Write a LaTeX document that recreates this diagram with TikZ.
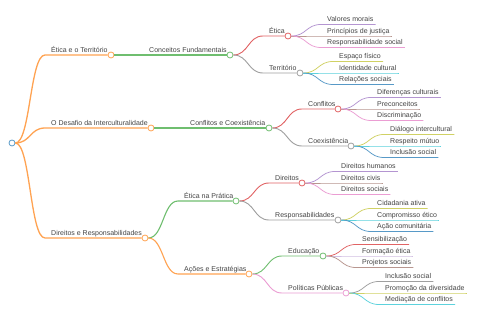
\documentclass[tikz,border=0pt]{standalone}
\usepackage{fontspec}
\setmainfont{Liberation Sans}
\definecolor{rBlue}{HTML}{1F77B4}
\definecolor{rOrange}{HTML}{FF7F0E}
\definecolor{rGreen}{HTML}{2CA02C}
\definecolor{rRed}{HTML}{D62728}
\definecolor{rPurple}{HTML}{9467BD}
\definecolor{rBrown}{HTML}{8C564B}
\definecolor{rPink}{HTML}{E377C2}
\definecolor{rGray}{HTML}{7F7F7F}
\definecolor{rOlive}{HTML}{BCBD22}
\definecolor{rCyan}{HTML}{17BECF}
\colorlet{cBlue}{rBlue!75}
\colorlet{cOrange}{rOrange!72}
\colorlet{cGreen}{rGreen!68}
\colorlet{cRed}{rRed!72}
\colorlet{cPurple}{rPurple!70}
\colorlet{cBrown}{rBrown!62}
\colorlet{cPink}{rPink!72}
\colorlet{cGray}{rGray!75}
\colorlet{cOlive}{rOlive!70}
\colorlet{cCyan}{rCyan!70}
\definecolor{txt}{HTML}{444444}
\newcommand{\mmlink}[4]{\draw[#1] (#2.east) .. controls +(15,0) and +(-15,0) .. (#3) -- (#4);}
\newcommand{\mmleaf}[4]{\draw[#1] (#2.east) .. controls +(15,0) and +(-15,0) .. (#3) -- (#3 -| #4.east) -- ++(2,0);}
\tikzset{
  dot/.style={circle, draw, fill=white, minimum size=6pt, inner sep=0pt, line width=0.8pt},
  lbl/.style={anchor=base west, inner sep=0pt, font=\fontsize{7}{8}\selectfont, text=txt},
  wa/.style={line width=1.3pt},
  wb/.style={line width=1.1pt},
  wc/.style={line width=0.9pt},
  wd/.style={line width=0.75pt}
}
\begin{document}
\begin{tikzpicture}[x=1pt,y=-1pt]
\useasboundingbox[fill=white] (0,0) rectangle (480,320);

% root
\node[dot,draw=cBlue] (R) at (12,143) {};

% level 1
\node[lbl] (tA) at (51,52.5) {Ética e o Território};
\node[lbl] (tB) at (51,125.5) {O Desafio da Interculturalidade};
\node[lbl] (tC) at (51,235.5) {Direitos e Responsabilidades};
\coordinate (sA) at (45,55);
\coordinate (sB) at (45,128);
\coordinate (sC) at (45,238);
\node[dot,draw=cOrange] (A) at (111,55) {};
\node[dot,draw=cOrange] (B) at (151,128) {};
\node[dot,draw=cOrange] (C) at (145,238) {};
\mmlink{wa,cOrange}{R}{sA}{A}
\mmlink{wa,cOrange}{R}{sB}{B}
\mmlink{wa,cOrange}{R}{sC}{C}

% level 2
\node[lbl] (tAA) at (149,52.5) {Conceitos Fundamentais};
\node[lbl] (tBA) at (190,125.5) {Conflitos e Coexistência};
\node[lbl] (tCA) at (184,198.5) {Ética na Prática};
\node[lbl] (tCB) at (184,271.5) {Ações e Estratégias};
\coordinate (sAA) at (144,55);
\coordinate (sBA) at (184,128);
\coordinate (sCA) at (178,201);
\coordinate (sCB) at (178,274);
\node[dot,draw=cGreen] (AA) at (230,55) {};
\node[dot,draw=cGreen] (BA) at (269,128) {};
\node[dot,draw=cGreen] (CA) at (236,201) {};
\node[dot,draw=cOrange] (CB) at (249,274) {};
\mmlink{wb,cGreen}{A}{sAA}{AA}
\mmlink{wb,cGreen}{B}{sBA}{BA}
\mmlink{wb,cGreen}{C}{sCA}{CA}
\mmlink{wb,cOrange}{C}{sCB}{CB}

% level 3
\node[lbl] (tAAa) at (269,33.5) {Ética};
\node[lbl] (tAAb) at (269,70.5) {Território};
\node[lbl] (tBAa) at (308,106.5) {Conflitos};
\node[lbl] (tBAb) at (308,143.5) {Coexistência};
\node[lbl] (tCAa) at (275,180.5) {Direitos};
\node[lbl] (tCAb) at (275,217.5) {Responsabilidades};
\node[lbl] (tCBa) at (288,253.5) {Educação};
\node[lbl] (tCBb) at (288,290.5) {Políticas Públicas};
\coordinate (sAAa) at (263,36);
\coordinate (sAAb) at (263,73);
\coordinate (sBAa) at (302,109);
\coordinate (sBAb) at (302,146);
\coordinate (sCAa) at (269,183);
\coordinate (sCAb) at (269,220);
\coordinate (sCBa) at (282,256);
\coordinate (sCBb) at (282,293);
\node[dot,draw=cRed] (AAa) at (288,36) {};
\node[dot,draw=cGray] (AAb) at (300,73) {};
\node[dot,draw=cRed] (BAa) at (338,109) {};
\node[dot,draw=cGray] (BAb) at (351,146) {};
\node[dot,draw=cRed] (CAa) at (302,183) {};
\node[dot,draw=cGray] (CAb) at (338,220) {};
\node[dot,draw=cGreen] (CBa) at (323,256) {};
\node[dot,draw=cPink] (CBb) at (346,293) {};
\mmlink{wc,cRed}{AA}{sAAa}{AAa}
\mmlink{wc,cGray}{AA}{sAAb}{AAb}
\mmlink{wc,cRed}{BA}{sBAa}{BAa}
\mmlink{wc,cGray}{BA}{sBAb}{BAb}
\mmlink{wc,cRed}{CA}{sCAa}{CAa}
\mmlink{wc,cGray}{CA}{sCAb}{CAb}
\mmlink{wc,cGreen}{CB}{sCBa}{CBa}
\mmlink{wc,cPink}{CB}{sCBb}{CBb}

% level 4 leaves
% under Etica
\node[lbl] (l1) at (327,22) {Valores morais};
\node[lbl] (l2) at (327,33.5) {Princípios de justiça};
\node[lbl] (l3) at (327,45) {Responsabilidade social};
\coordinate (s1) at (321,24.5);
\coordinate (s2) at (321,36);
\coordinate (s3) at (321,47.5);
\mmleaf{wd,cPurple}{AAa}{s1}{l1}
\mmleaf{wd,cBrown}{AAa}{s2}{l2}
\mmleaf{wd,cPink}{AAa}{s3}{l3}
% under Territorio
\node[lbl] (l4) at (339,59) {Espaço físico};
\node[lbl] (l5) at (339,70.5) {Identidade cultural};
\node[lbl] (l6) at (339,82) {Relações sociais};
\coordinate (s4) at (333,61.5);
\coordinate (s5) at (333,73);
\coordinate (s6) at (333,84.5);
\mmleaf{wd,cOlive}{AAb}{s4}{l4}
\mmleaf{wd,cCyan}{AAb}{s5}{l5}
\mmleaf{wd,cBlue}{AAb}{s6}{l6}
% under Conflitos
\node[lbl] (l7) at (377,95) {Diferenças culturais};
\node[lbl] (l8) at (377,106.5) {Preconceitos};
\node[lbl] (l9) at (377,118) {Discriminação};
\coordinate (s7) at (371,97.5);
\coordinate (s8) at (371,109);
\coordinate (s9) at (371,120.5);
\mmleaf{wd,cPurple}{BAa}{s7}{l7}
\mmleaf{wd,cBrown}{BAa}{s8}{l8}
\mmleaf{wd,cPink}{BAa}{s9}{l9}
% under Coexistencia
\node[lbl] (l10) at (390,132) {Diálogo intercultural};
\node[lbl] (l11) at (390,143.5) {Respeito mútuo};
\node[lbl] (l12) at (390,155) {Inclusão social};
\coordinate (s10) at (384,134.5);
\coordinate (s11) at (384,146);
\coordinate (s12) at (384,157.5);
\mmleaf{wd,cOlive}{BAb}{s10}{l10}
\mmleaf{wd,cCyan}{BAb}{s11}{l11}
\mmleaf{wd,cBlue}{BAb}{s12}{l12}
% under Direitos
\node[lbl] (l13) at (341,169) {Direitos humanos};
\node[lbl] (l14) at (341,180.5) {Direitos civis};
\node[lbl] (l15) at (341,192) {Direitos sociais};
\coordinate (s13) at (335,171.5);
\coordinate (s14) at (335,183);
\coordinate (s15) at (335,194.5);
\mmleaf{wd,cPurple}{CAa}{s13}{l13}
\mmleaf{wd,cBrown}{CAa}{s14}{l14}
\mmleaf{wd,cPink}{CAa}{s15}{l15}
% under Responsabilidades
\node[lbl] (l16) at (377,206) {Cidadania ativa};
\node[lbl] (l17) at (377,217.5) {Compromisso ético};
\node[lbl] (l18) at (377,229) {Ação comunitária};
\coordinate (s16) at (371,208.5);
\coordinate (s17) at (371,220);
\coordinate (s18) at (371,231.5);
\mmleaf{wd,cOlive}{CAb}{s16}{l16}
\mmleaf{wd,cCyan}{CAb}{s17}{l17}
\mmleaf{wd,cBlue}{CAb}{s18}{l18}
% under Educacao
\node[lbl] (l19) at (362,242) {Sensibilização};
\node[lbl] (l20) at (362,253.5) {Formação ética};
\node[lbl] (l21) at (362,265) {Projetos sociais};
\coordinate (s19) at (356,244.5);
\coordinate (s20) at (356,256);
\coordinate (s21) at (356,267.5);
\mmleaf{wd,cRed}{CBa}{s19}{l19}
\mmleaf{wd,cPurple!60}{CBa}{s20}{l20}
\mmleaf{wd,cBrown}{CBa}{s21}{l21}
% under Politicas Publicas
\node[lbl] (l22) at (385,279) {Inclusão social};
\node[lbl] (l23) at (385,290.5) {Promoção da diversidade};
\node[lbl] (l24) at (385,302) {Mediação de conflitos};
\coordinate (s22) at (379,281.5);
\coordinate (s23) at (379,293);
\coordinate (s24) at (379,304.5);
\mmleaf{wd,cGray}{CBb}{s22}{l22}
\mmleaf{wd,cOlive}{CBb}{s23}{l23}
\mmleaf{wd,cCyan}{CBb}{s24}{l24}
\end{tikzpicture}
\end{document}
